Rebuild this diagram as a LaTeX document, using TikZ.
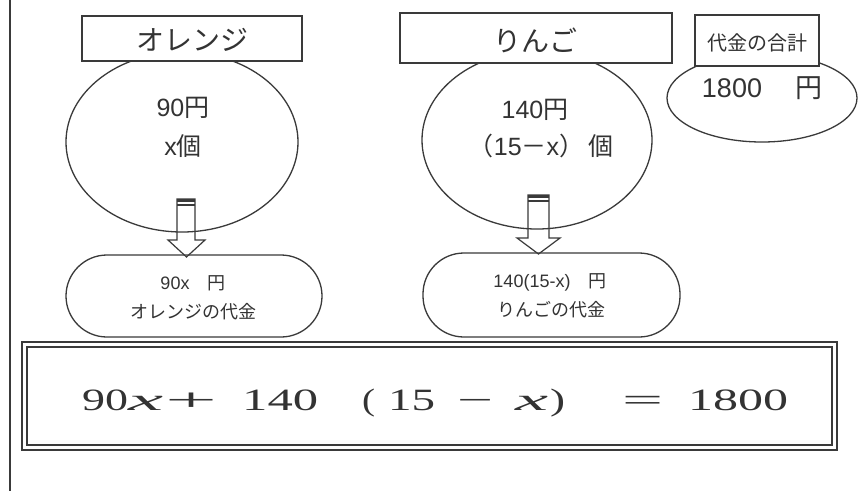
\documentclass[tikz,border=0pt]{standalone}
\usepackage{fontspec}
\usepackage{graphicx}
\setmainfont{Liberation Sans}
\newfontfamily\jp{Noto Sans CJK JP}
\newfontfamily\ser{Liberation Serif}
\usetikzlibrary{shapes.geometric}
\definecolor{ink}{HTML}{3A3A3A}
\definecolor{txtc}{HTML}{333333}
\newcommand\fs[1]{\fontsize{#1}{#1}\selectfont}
\newcommand\blockarr[7]{%
  \draw[arrline] (#1,#3) -- (#2,#3) -- (#2,#4) -- (#6,#4) -- ({(#5+#6)/2},#7) -- (#5,#4) -- (#1,#4) -- cycle;
  \fill[ink] (#1,#3) rectangle (#2,#3+3);
  \draw[ink, line width=1.2pt] (#1,#3+6) -- (#2,#3+6);
}
\newcommand\eqp[3]{\node[eqt] at (#1,410) {\resizebox{#2pt}{\height}{#3}};}
\begin{document}
\begin{tikzpicture}[x=1pt,y=-1pt,
  shapeline/.style={draw=ink, line width=1.3pt},
  oval/.style={shapeline, ellipse, inner sep=0pt},
  titlebox/.style={shapeline, fill=white, rectangle, inner sep=0pt},
  pill/.style={shapeline, rectangle, rounded corners=41pt, inner sep=0pt},
  arrline/.style={draw=ink, line width=1.2pt, line join=miter},
  txt/.style={text=txtc, inner sep=0pt, align=center},
  eqt/.style={text=txtc, inner sep=0pt, anchor=base west, font=\ser\fs{31}},
]
\useasboundingbox (0,0) rectangle (858,491);
\fill[white] (0,0) rectangle (858,491);

% left vertical rule
\coordinate (vt) at (10,0);
\coordinate (vb) at (10,491);
\draw[ink, line width=2.4pt] (vt) -- (vb);

% ovals
\node[oval, minimum width=232pt, minimum height=180pt] (ovOr) at (182,142) {};
\node[oval, minimum width=230pt, minimum height=178pt] (ovAp) at (537,140) {};
\node[oval, minimum width=190pt, minimum height=88pt] (ovSum) at (762,98) {};

% title boxes
\node[titlebox, minimum width=220pt, minimum height=45pt] (bOr) at (192,38.5) {};
\node[titlebox, minimum width=272pt, minimum height=50pt] (bAp) at (536,38) {};
\node[titlebox, minimum width=124pt, minimum height=51pt] (bSum) at (757,40.5) {};

\node[txt, font=\jp\fs{28}] (tOr) at (192,40) {オレンジ};
\node[txt, font=\jp\fs{28}] (tAp) at (535,40) {りんご};
\node[txt, font=\jp\fs{20}] (tSum) at (757,43) {代金の合計};

% oval contents
\node[txt, font=\fs{25}] (o1) at (183,108) {90{\jp 円}};
\node[txt, font=\fs{25}] (o2) at (183,146) {x{\jp 個}};
\node[txt, font=\fs{25}] (a1) at (535,110) {140{\jp 円}};
\node[txt, font=\fs{25}] (a2) at (541,146) {{\jp （}15{\jp －}x{\jp ）\hspace{4pt}個}};
\node[txt, font=\fs{27}] (s1) at (762,88) {1800\hspace{33pt}{\jp 円}};

% block arrows
\blockarr{177}{195}{199}{240}{168}{205}{257}
\blockarr{528}{549}{195}{238}{517}{560}{254}

% pills
\node[pill, minimum width=256pt, minimum height=82pt] (pOr) at (194,296) {};
\node[pill, minimum width=257pt, minimum height=84pt] (pAp) at (551.5,295) {};
\node[txt, font=\fs{18}] (p1) at (193,283) {90x{\jp 　円}};
\node[txt, font=\jp\fs{18}] (p2) at (193,312) {オレンジの代金};
\node[txt, font=\fs{18}] (p3) at (550,282) {140(15-x){\jp 　円}};
\node[txt, font=\jp\fs{18}] (p4) at (551,310) {りんごの代金};

% equation frame (double)
\node[draw=ink, line width=1.2pt, rectangle, inner sep=0pt, minimum width=815pt, minimum height=108pt] (frO) at (429.5,396) {};
\node[draw=ink, line width=1.2pt, rectangle, inner sep=0pt, minimum width=805pt, minimum height=98pt] (frI) at (429.5,396) {};

% equation
\eqp{82}{46}{90}
\eqp{128}{35}{\itshape x}
\eqp{165}{52}{+}
\eqp{242}{76}{140}
\eqp{362}{13}{(}
\eqp{388}{47}{15}
\eqp{457}{36}{−}
\eqp{515}{33}{\itshape x}
\eqp{550}{15}{)}
\eqp{622}{41}{=}
\eqp{688}{100}{1800}
\end{tikzpicture}
\end{document}
